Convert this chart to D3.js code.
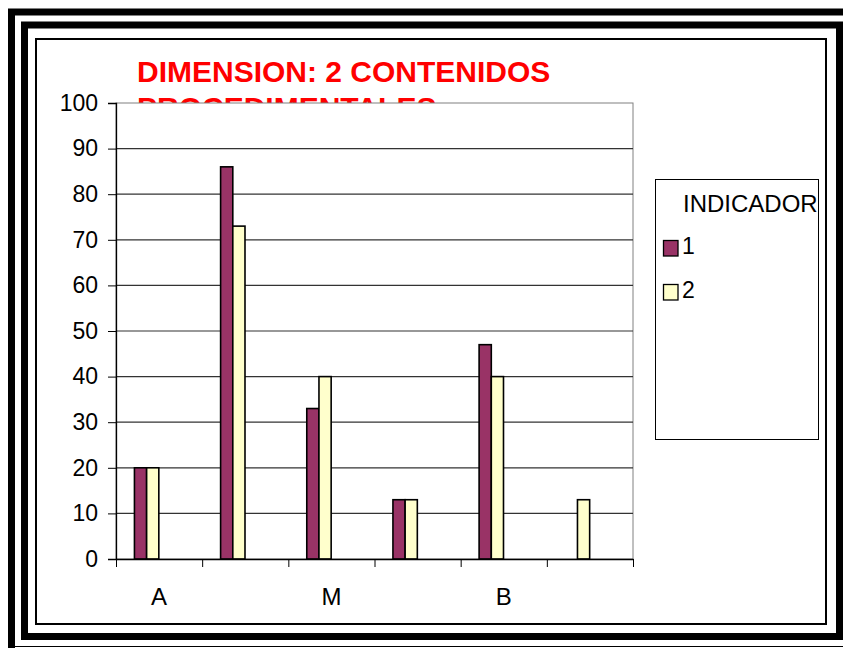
<!DOCTYPE html>
<html>
<head>
<meta charset="utf-8">
<script src="https://cdn.jsdelivr.net/npm/d3@7"></script>
<style>
html,body{margin:0;padding:0;background:#fff;}
svg{display:block;}
text{font-family:"Liberation Sans",Arial,sans-serif;}
</style>
</head>
<body>
<svg id="chart" width="843" height="648"></svg>
<script>
// ---- data ----
const categories = ["A", "A2", "M", "M2", "B", "B2"];
const tickLabels = ["A", "", "M", "", "B", ""];
const seriesNames = ["1", "2"];
const series1 = [20, 86, 33, 13, 47, 0];
const series2 = [20, 73, 40, 13, 40, 13];
const yTicks = [0, 10, 20, 30, 40, 50, 60, 70, 80, 90, 100];
const titleLines = ["DIMENSION: 2 CONTENIDOS", "PROCEDIMENTALES"];
const legendTitle = "INDICADOR";
const colors = ["#993366", "#FFFFCC"];

(function () {
const svg = d3.select("#chart");

// ---- frames ----
svg.append("rect").attr("x", 11.5).attr("y", 12).attr("width", 900).attr("height", 700)
  .attr("fill", "none").attr("stroke", "#000").attr("stroke-width", 7);
svg.append("line").attr("x1", 15).attr("x2", 843).attr("y1", 646.5).attr("y2", 646.5)
  .attr("stroke", "#000").attr("stroke-width", 1);
svg.append("rect").attr("x", 24.5).attr("y", 25).attr("width", 815).attr("height", 611.5)
  .attr("fill", "none").attr("stroke", "#000").attr("stroke-width", 7);
svg.append("rect").attr("x", 36).attr("y", 39).attr("width", 790).attr("height", 585)
  .attr("fill", "none").attr("stroke", "#000").attr("stroke-width", 2);

// ---- title (second line hidden behind plot area) ----
const title = svg.append("text").attr("x", 137).attr("y", 82)
  .attr("fill", "#FF0000").attr("font-weight", "bold").attr("font-size", 30)
  .attr("textLength", null);
titleLines.forEach((t, i) => {
  title.append("tspan").attr("x", 137).attr("dy", i === 0 ? 0 : 36).text(t);
});

// ---- scales ----
const pLeft = 116, pRight = 633, pTop = 103, pBottom = 559;
const x = d3.scaleBand().domain(d3.range(categories.length)).range([pLeft, pRight]);
const xb = d3.scaleLinear().domain([0, categories.length]).range([pLeft, pRight]);
const y = d3.scaleLinear().domain([0, 100]).range([pBottom, pTop]);

// plot area
svg.append("rect").attr("x", pLeft).attr("y", pTop).attr("width", pRight - pLeft).attr("height", pBottom - pTop)
  .attr("fill", "#fff").attr("stroke", "#808080").attr("stroke-width", 1);

// gridlines
svg.append("g").selectAll("line").data(yTicks.filter(v => v > 0 && v < 100)).join("line")
  .attr("x1", pLeft).attr("x2", pRight)
  .attr("y1", d => y(d)).attr("y2", d => y(d))
  .attr("stroke", "#333").attr("stroke-width", 1.2);

// bars
const bw = x.bandwidth();
const barW = bw * 0.1415;
[series1, series2].forEach((vals, s) => {
  svg.append("g").selectAll("rect").data(vals.map((v, i) => ({v, i})).filter(d => d.v > 0)).join("rect")
    .attr("x", d => x(d.i) + bw * 0.214 + s * barW)
    .attr("y", d => y(d.v))
    .attr("width", barW)
    .attr("height", d => y(0) - y(d.v))
    .attr("fill", colors[s])
    .attr("stroke", "#000").attr("stroke-width", 1.6);
});

// y axis
const yAxis = svg.append("g").attr("transform", `translate(${pLeft},0)`)
  .call(d3.axisLeft(y).tickValues(yTicks).tickSize(8).tickPadding(10).tickFormat(d3.format("d")));
yAxis.select(".domain").attr("stroke", "#000").attr("stroke-width", 1.3);
yAxis.selectAll(".tick line").attr("stroke", "#000");
yAxis.selectAll(".tick text").attr("font-size", 23).attr("fill", "#000")
  .attr("font-family", "'Liberation Sans', Arial, sans-serif");

// x axis: ticks at boundaries
const xAxis = svg.append("g").attr("transform", `translate(0,${pBottom})`)
  .call(d3.axisBottom(xb).tickValues(d3.range(categories.length + 1)).tickSize(8).tickSizeOuter(0).tickFormat(""));
xAxis.select(".domain").attr("stroke", "#000").attr("stroke-width", 1.3);
xAxis.selectAll(".tick line").attr("stroke", "#000");

// x labels
svg.append("g").selectAll("text").data(tickLabels.map((t, i) => ({t, i}))).join("text")
  .attr("x", d => x(d.i) + bw / 2).attr("y", 605)
  .attr("text-anchor", "middle").attr("font-size", 24).attr("fill", "#000")
  .text(d => d.t);

// legend
const lg = svg.append("g");
lg.append("rect").attr("x", 655.5).attr("y", 179.5).attr("width", 163).attr("height", 260)
  .attr("fill", "#fff").attr("stroke", "#000").attr("stroke-width", 1);
lg.append("clipPath").attr("id", "lgclip").append("rect")
  .attr("x", 656).attr("y", 180).attr("width", 162).attr("height", 259);
lg.append("text").attr("x", 683).attr("y", 211.5).attr("font-size", 24).attr("fill", "#000")
  .attr("clip-path", "url(#lgclip)").text(legendTitle);
seriesNames.forEach((n, i) => {
  const yy = 240 + i * 44;
  lg.append("rect").attr("x", 663.5).attr("y", yy + 0.5).attr("width", 14.5).attr("height", 15.5)
    .attr("fill", colors[i]).attr("stroke", "#000").attr("stroke-width", 1.3);
  lg.append("text").attr("x", 682).attr("y", yy + 14).attr("font-size", 23).attr("fill", "#000").text(n);
});
})();
</script>
</body>
</html>
